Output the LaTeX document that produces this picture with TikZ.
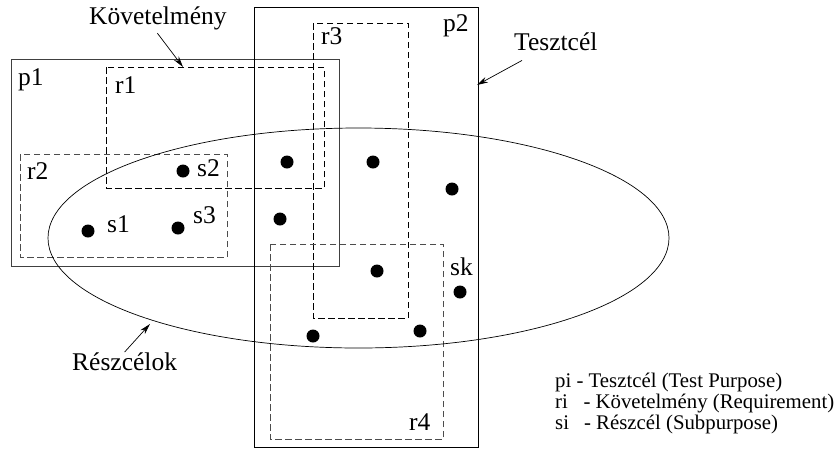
\documentclass[tikz,border=0pt]{standalone}
\usepackage{fontspec}
\setmainfont{Liberation Serif}
\usetikzlibrary{arrows.meta}
\begin{document}
\begin{tikzpicture}[x=1pt,y=-1pt,
  lbl/.style={inner sep=0pt, anchor=base west, font=\fontsize{25.5}{28}\selectfont},
  leg/.style={inner sep=0pt, anchor=base west, font=\fontsize{20.8}{24}\selectfont},
  solidbox/.style={line width=0.9pt},
  dashbox/.style={line width=0.9pt, dash pattern=on 6.5pt off 3.5pt},
  dot/.style={circle, fill=black, inner sep=0pt, minimum size=13pt},
  arr/.style={line width=0.7pt, -{Stealth[length=11pt,width=6pt]}}]
\useasboundingbox (0,0) rectangle (837,448);
% test purposes
\draw[solidbox, draw=black!75] (11,59) rectangle (339,266);
\draw[solidbox] (254,7) rectangle (478,447);
% requirements
\draw[dashbox] (106,67) rectangle (324,188);
\draw[dashbox, draw=black!70] (20,154) rectangle (227,257);
\draw[dashbox] (313,23) rectangle (408,318);
\draw[dashbox, draw=black!70] (270,244) rectangle (443,439);
% subpurposes ellipse
\draw[line width=0.7pt] (358.5,238) ellipse [x radius=310.5pt, y radius=110pt];
% dots
\node[dot] (d1) at (88,231) {};
\node[dot] (d2) at (183,171) {};
\node[dot] (d3) at (178,228) {};
\node[dot] (d4) at (287,162) {};
\node[dot] (d5) at (373,162) {};
\node[dot] (d6) at (280,219) {};
\node[dot] (d7) at (452,189) {};
\node[dot] (d8) at (377,271) {};
\node[dot] (d9) at (313,336) {};
\node[dot] (d10) at (420,331) {};
\node[dot] (d11) at (460,292) {};
% labels
\node[lbl] (lp1) at (18,85) {p1};
\node[lbl] (lp2) at (443,31) {p2};
\node[lbl] (lr1) at (115,93) {r1};
\node[lbl] (lr2) at (27,179) {r2};
\node[lbl] (lr3) at (321,44) {r3};
\node[lbl] (lr4) at (409,430) {r4};
\node[lbl] (ls1) at (107,232) {s1};
\node[lbl] (ls2) at (197,176) {s2};
\node[lbl] (ls3) at (193,223) {s3};
\node[lbl] (lsk) at (450,275) {sk};
\node[lbl] (kov) at (89,24) {Követelmény};
\node[lbl] (tes) at (514,50) {Tesztcél};
\node[lbl] (rez) at (72,370) {Részcélok};
% arrows
\coordinate (kovT) at (183,67);
\coordinate (tesT) at (477,85);
\coordinate (rezT) at (150,324);
\draw[arr] ([shift={(-0.5,3.5)}]kov.south) -- (kovT);
\draw[arr] ([shift={(8,10)}]tes.south west) -- (tesT);
\draw[arr] (rez.north) -- (rezT);
% legend
\node[leg] (g1) at (555,387) {pi - Tesztcél (Test Purpose)};
\node[leg] (g2) at (555,408) {ri\hspace{0.75em}- Követelmény (Requirement)};
\node[leg] (g3) at (555,429) {si\hspace{0.72em}- Részcél (Subpurpose)};
\end{tikzpicture}
\end{document}
